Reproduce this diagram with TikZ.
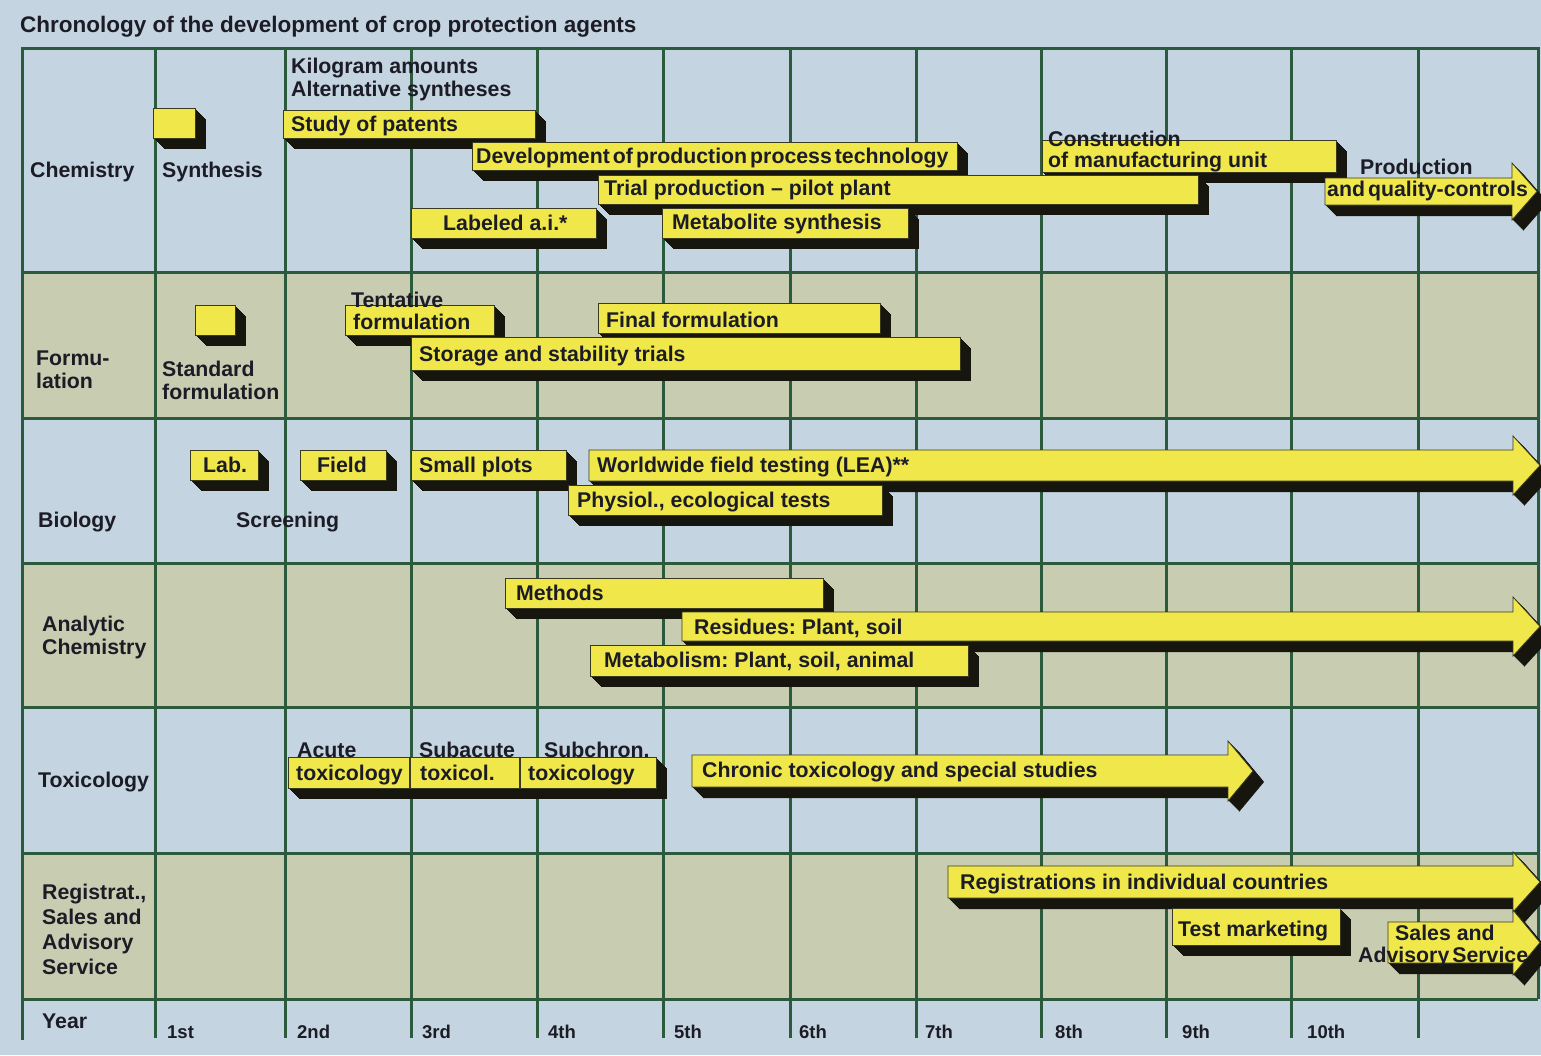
\documentclass[tikz,border=0pt]{standalone}
\usepackage{fontspec}
\setmainfont{Liberation Sans}
\frenchspacing
\definecolor{bgblue}{HTML}{C4D4E0}
\definecolor{bgkhaki}{HTML}{C8CCB0}
\definecolor{gridc}{HTML}{2B5A3C}
\definecolor{barc}{HTML}{F0E84A}
\definecolor{shdc}{HTML}{16160F}
\definecolor{edgec}{HTML}{3A3A22}
\definecolor{txtc}{HTML}{1C1C26}
\newcommand\lf{\fontsize{21.3}{24}\selectfont\bfseries}
\newcommand\tightlf{\fontsize{21.3}{24}\selectfont\bfseries\spaceskip=0.14em\relax}
\newcommand\tf{\fontsize{22.5}{25}\selectfont\bfseries}
\newcommand\yf{\fontsize{18.5}{20}\selectfont\bfseries}
\newcommand\shdn{11}
\newcommand\ybox[4]{%
  \foreach \k in {1,...,\shdn}{\fill[shdc,shift={(\k,\k)}] (#1,#2) rectangle (#3,#4);}
  \filldraw[fill=barc,draw=edgec,line width=0.8pt] (#1,#2) rectangle (#3,#4);
}
\newcommand\yarrow[6]{%
  \foreach \k in {1,...,\shdn}{\fill[shdc,shift={(\k,\k)}] (#1,#2) -- (#4,#2) -- (#4,#2-#5) -- (#6,{(#2+#3)/2}) -- (#4,#3+#5) -- (#4,#3) -- (#1,#3) -- cycle;}
  \filldraw[fill=barc,draw=edgec,line width=0.8pt] (#1,#2) -- (#4,#2) -- (#4,#2-#5) -- (#6,{(#2+#3)/2}) -- (#4,#3+#5) -- (#4,#3) -- (#1,#3) -- cycle;
}
\tikzset{
  lbl/.style={anchor=base west, inner sep=0pt, font=\lf, text=txtc},
  tightlbl/.style={lbl, font=\tightlf},
  ttl/.style={anchor=base west, inner sep=0pt, font=\tf, text=txtc},
  yr/.style={anchor=base west, inner sep=0pt, font=\yf, text=txtc},
  gridline/.style={draw=gridc, line width=3pt},
}
\begin{document}
\begin{tikzpicture}[x=1pt,y=-1pt]
\fill[bgblue] (0,0) rectangle (1541,1055);
\useasboundingbox (0,0) rectangle (1541,1055);
% khaki rows
\fill[bgkhaki] (22,272) rectangle (1538,418);
\fill[bgkhaki] (22,563) rectangle (1538,707);
\fill[bgkhaki] (22,853) rectangle (1538,999);
% grid
\foreach \yy in {48,272,418,563,707,853,999}{\draw[gridline] (22,\yy) -- (1538,\yy);}
\draw[gridline] (22,47) -- (22,1040);
\foreach \xx in {155,285,411,537,663,790,916,1041,1166,1291,1418}{\draw[gridline] (\xx,48) -- (\xx,1038);}
\draw[gridline] (1538,47) -- (1538,999);

% title
\node[ttl] (title) at (20,32) {Chronology of the development of crop protection agents};

% row labels
\node[lbl] (chem) at (30,177) {Chemistry};
\node[lbl] (formuA) at (36,365) {Formu-};
\node[lbl] (formuB) at (36,388) {lation};
\node[lbl] (bio) at (38,527) {Biology};
\node[lbl] (anaA) at (42,631) {Analytic};
\node[lbl] (anaB) at (42,654) {Chemistry};
\node[lbl] (tox) at (38,787) {Toxicology};
\node[lbl] (regA) at (42,899) {Registrat.,};
\node[lbl] (regB) at (42,924) {Sales and};
\node[lbl] (regC) at (42,949) {Advisory};
\node[lbl] (regD) at (42,974) {Service};
\node[lbl] (year) at (42,1028) {Year};

% years
\node[yr] (y1) at (167,1038) {1st};
\node[yr] (y2) at (297,1038) {2nd};
\node[yr] (y3) at (422,1038) {3rd};
\node[yr] (y4) at (548,1038) {4th};
\node[yr] (y5) at (674,1038) {5th};
\node[yr] (y6) at (799,1038) {6th};
\node[yr] (y7) at (925,1038) {7th};
\node[yr] (y8) at (1055,1038) {8th};
\node[yr] (y9) at (1182,1038) {9th};
\node[yr] (y10) at (1307,1038) {10th};

% ---------- Chemistry ----------
\ybox{153}{108}{195}{138}
\node[lbl] (synth) at (162,177) {Synthesis};
\node[lbl] (kiloA) at (291,73) {Kilogram amounts};
\node[lbl] (kiloB) at (291,96) {Alternative syntheses};
\ybox{283}{110}{535}{138}
\node[lbl] (patents) at (291,131) {Study of patents};
\ybox{472}{142}{957}{170}
\node[tightlbl] (devproc) at (476,163) {Development of production process technology};
\ybox{1042}{140}{1336}{172}
\node[lbl] (constA) at (1048,146) {Construction};
\node[lbl] (constB) at (1048,167) {of manufacturing unit};
\ybox{598}{175}{1198}{204}
\node[lbl] (trial) at (604,195) {Trial production -- pilot plant};
\ybox{411}{208}{596}{238}
\node[lbl] (labeled) at (443,230) {Labeled a.i.*};
\ybox{662}{208}{908}{238}
\node[lbl] (metsyn) at (672,229) {Metabolite synthesis};
\yarrow{1325}{178}{205}{1512}{15}{1537}
\node[lbl] (prodA) at (1360,174) {Production};
\node[tightlbl] (prodB) at (1327,196) {and quality-controls};

% ---------- Formulation ----------
\ybox{195}{305}{235}{335}
\node[lbl] (stdA) at (162,376) {Standard};
\node[lbl] (stdB) at (162,399) {formulation};
\ybox{345}{305}{494}{335}
\node[lbl] (tentA) at (351,307) {Tentative};
\node[lbl] (tentB) at (353,329) {formulation};
\ybox{598}{303}{880}{333}
\node[lbl] (final) at (606,327) {Final formulation};
\ybox{411}{337}{960}{370}
\node[lbl] (storage) at (419,361) {Storage and stability trials};

% ---------- Biology ----------
\ybox{190}{450}{258}{480}
\node[lbl] (lab) at (203,472) {Lab.};
\ybox{300}{450}{386}{480}
\node[lbl] (field) at (317,472) {Field};
\ybox{411}{450}{566}{480}
\node[lbl] (small) at (419,472) {Small plots};
\yarrow{589}{450}{481}{1513}{14}{1540}
\node[lbl] (world) at (597,472) {Worldwide field testing (LEA)**};
\ybox{568}{485}{882}{515}
\node[lbl] (physiol) at (577,507) {Physiol., ecological tests};
\node[lbl] (screen) at (236,527) {Screening};

% ---------- Analytic chemistry ----------
\ybox{505}{578}{823}{608}
\node[lbl] (methods) at (516,600) {Methods};
\yarrow{682}{612}{641}{1513}{15}{1540}
\node[lbl] (resid) at (694,634) {Residues: Plant, soil};
\ybox{590}{645}{968}{676}
\node[lbl] (metab) at (604,667) {Metabolism: Plant, soil, animal};

% ---------- Toxicology ----------
\ybox{288}{757}{656}{788}
\draw[edgec,line width=1.2pt] (410,757) -- (410,788);
\draw[edgec,line width=1.2pt] (520,757) -- (520,788);
\node[lbl] (acuteA) at (297,757) {Acute};
\node[lbl] (acuteB) at (296,780) {toxicology};
\node[lbl] (subaA) at (419,757) {Subacute};
\node[lbl] (subaB) at (420,780) {toxicol.};
\node[lbl] (subcA) at (544,757) {Subchron.};
\node[lbl] (subcB) at (528,780) {toxicology};
\yarrow{692}{755}{787}{1228}{14}{1253}
\node[lbl] (chronic) at (702,777) {Chronic toxicology and special studies};

% ---------- Registration ----------
\yarrow{948}{866}{898}{1513}{14}{1540}
\node[lbl] (regis) at (960,889) {Registrations in individual countries};
\ybox{1172}{908}{1340}{945}
\node[lbl] (testm) at (1178,936) {Test marketing};
\yarrow{1388}{922}{963}{1513}{12}{1540}
\node[lbl] (salesA) at (1395,940) {Sales and};
\node[tightlbl] (salesB) at (1358,962) {Advisory Service};
\end{tikzpicture}
\end{document}
